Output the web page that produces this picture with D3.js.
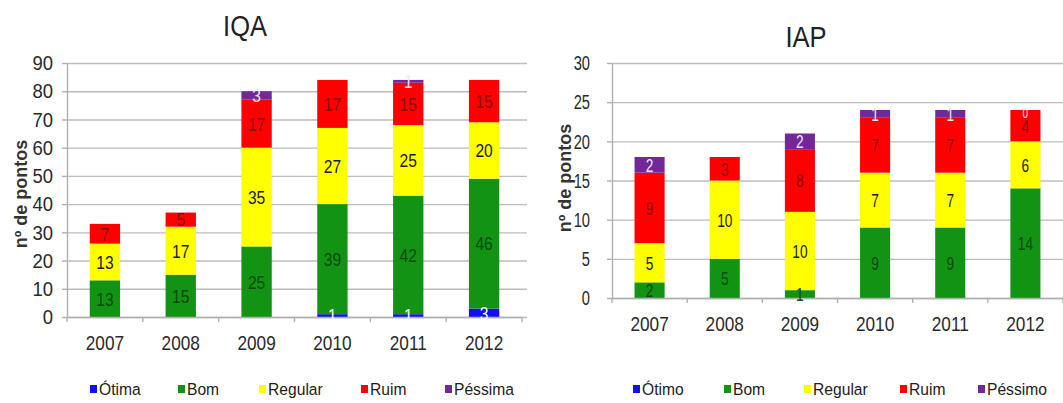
<!DOCTYPE html>
<html>
<head>
<meta charset="utf-8">
<script src="https://cdn.jsdelivr.net/npm/d3@7"></script>
<style>
  body { margin: 0; background: #fff; }
  svg { display: block; font-family: "Liberation Sans", Arial, sans-serif; }
</style>
</head>
<body>
<div class="chart"></div>
<script>
// categories
const years = ["2007", "2008", "2009", "2010", "2011", "2012"];

// IQA (null = no label shown)
const iqaOtima   = [null, null, null, 1, 1, 3];
const iqaBom     = [13, 15, 25, 39, 42, 46];
const iqaRegular = [13, 17, 35, 27, 25, 20];
const iqaRuim    = [7, 5, 17, 17, 15, 15];
const iqaPessima = [null, null, 3, null, 1, null];
const iqaTicks   = [0, 10, 20, 30, 40, 50, 60, 70, 80, 90];
const iqaNames   = ["Ótima", "Bom", "Regular", "Ruim", "Péssima"];

// IAP
const iapOtimo   = [null, null, null, null, null, null];
const iapBom     = [2, 5, 1, 9, 9, 14];
const iapRegular = [5, 10, 10, 7, 7, 6];
const iapRuim    = [9, 3, 8, 7, 7, 4];
const iapPessimo = [2, null, 2, 1, 1, 0];
const iapTicks   = [0, 5, 10, 15, 20, 25, 30];
const iapNames   = ["Ótimo", "Bom", "Regular", "Ruim", "Péssimo"];

const colors = ["#1010f0", "#139313", "#ffff00", "#ff0000", "#73289a"];
const labelColors = ["#ffffff", "#0b4a0b", "#1a1a1a", "#8a0a0a", "#f0e6f6"];

const svg = d3.select(".chart")
    .append("svg")
    .attr("width", 1063)
    .attr("height", 403);

function drawChart(opt) {
    const g = svg.append("g");
    const series = opt.series;
    const rows = years.map((yr, i) => {
        const r = { year: yr };
        series.forEach((s, k) => r[k] = s[i] == null ? 0 : s[i]);
        return r;
    });
    const stacked = d3.stack().keys(series.map((s, k) => k))(rows);

    const x = d3.scaleBand()
        .domain(years)
        .range([opt.left, opt.right])
        .paddingInner(0.6)
        .paddingOuter(0.3);
    const y = d3.scaleLinear()
        .domain([0, d3.max(opt.ticks)])
        .range([opt.bottom, opt.top]);

    // gridlines
    g.append("g")
        .attr("transform", `translate(${opt.left},0)`)
        .call(d3.axisLeft(y).tickValues(opt.ticks).tickSize(-(opt.gridEnd - opt.left)).tickFormat(""))
        .call(a => a.select(".domain").remove())
        .call(a => a.selectAll("line").attr("stroke", "#bcbcbc").attr("stroke-width", 1.4));

    // y axis
    g.append("g")
        .attr("transform", `translate(${opt.left},0)`)
        .call(d3.axisLeft(y).tickValues(opt.ticks).tickSize(5).tickSizeOuter(0).tickPadding(opt.yPad))
        .call(a => a.select(".domain").attr("stroke", "#b0b0b0").attr("stroke-width", 1.4))
        .call(a => a.selectAll("line").attr("stroke", "#b0b0b0").attr("stroke-width", 1.4))
        .call(a => a.selectAll("text")
            .attr("font-size", 21)
            .attr("fill", "#2a2a2a")
            .attr("font-family", "Liberation Sans, Arial, sans-serif")
            .attr("transform", `scale(${opt.yScaleX},1)`)
            .attr("x", -(5 + opt.yPad) / opt.yScaleX));

    // bars
    const layer = g.append("g").selectAll("g")
        .data(stacked)
        .join("g")
        .attr("fill", (d, k) => colors[k]);
    layer.selectAll("rect")
        .data(d => d)
        .join("rect")
        .attr("x", d => x(d.data.year))
        .attr("width", x.bandwidth())
        .attr("y", d => y(d[1]))
        .attr("height", d => y(d[0]) - y(d[1]));

    // x axis
    g.append("g")
        .attr("transform", `translate(0,${opt.bottom})`)
        .call(d3.axisBottom(x).tickSize(0).tickSizeOuter(0).tickPadding(18))
        .call(a => a.select(".domain").attr("stroke", "#b0b0b0").attr("stroke-width", 1.4))
        .call(a => a.selectAll("text")
            .attr("font-size", 21)
            .attr("fill", "#2a2a2a")
            .attr("font-family", "Liberation Sans, Arial, sans-serif")
            .attr("transform", `scale(${opt.xScaleX},1)`));
    g.append("g").selectAll("line")
        .data(years.concat(["end"]))
        .join("line")
        .attr("x1", (d, i) => opt.left + i * x.step())
        .attr("x2", (d, i) => opt.left + i * x.step())
        .attr("y1", opt.bottom)
        .attr("y2", opt.bottom + 5)
        .attr("stroke", "#b0b0b0")
        .attr("stroke-width", 1.4);

    // value labels
    stacked.forEach((s, k) => {
        g.append("g").selectAll("text")
            .data(s.filter((d, i) => series[k][i] != null))
            .join("text")
            .attr("transform", d => {
                const v = d[1] - d[0];
                const cy = (y(d[0]) + y(d[1])) / 2 + (v === 0 ? 3 : 0);
                return `translate(${x(d.data.year) + x.bandwidth() / 2},${cy}) scale(${opt.labelScaleX},1)`;
            })
            .attr("text-anchor", "middle")
            .attr("dy", "0.36em")
            .attr("font-size", d => (d[1] - d[0]) === 0 ? 14 : 19)
            .attr("fill", labelColors[k])
            .text(d => d[1] - d[0]);
    });

    // title
    g.append("text")
        .attr("transform", `translate(${opt.titleX},${opt.titleY}) scale(0.85,1)`)
        .attr("text-anchor", "middle")
        .attr("font-size", 30)
        .attr("fill", "#222")
        .text(opt.title);

    // y title
    g.append("text")
        .attr("transform", `translate(${opt.yTitleX},${opt.yTitleY}) rotate(-90)`)
        .attr("text-anchor", "middle")
        .attr("dy", "0.35em")
        .attr("font-size", 18)
        .attr("font-weight", "bold")
        .attr("fill", "#333")
        .text("nº de pontos");

    // legend
    const leg = g.append("g").selectAll("g")
        .data(opt.names)
        .join("g")
        .attr("transform", (d, i) => `translate(${opt.legendX[i]},${opt.legendY})`);
    leg.append("rect")
        .attr("x", 0).attr("y", -4)
        .attr("width", 7).attr("height", 8)
        .attr("fill", (d, i) => colors[i]);
    leg.append("text")
        .attr("transform", "translate(9,6) scale(0.92,1)")
        .attr("font-size", 17)
        .attr("fill", "#222")
        .text(d => d);
}

drawChart({
    title: "IQA", titleX: 245, titleY: 36,
    series: [iqaOtima, iqaBom, iqaRegular, iqaRuim, iqaPessima],
    names: iqaNames, ticks: iqaTicks,
    left: 67, right: 522, gridEnd: 527, top: 63, bottom: 317,
    yPad: 9, yScaleX: 0.88, xScaleX: 0.82, labelScaleX: 0.82,
    yTitleX: 21, yTitleY: 194,
    legendX: [90, 178, 259, 361, 445], legendY: 389
});

drawChart({
    title: "IAP", titleX: 806, titleY: 47,
    series: [iapOtimo, iapBom, iapRegular, iapRuim, iapPessimo],
    names: iapNames, ticks: iapTicks,
    left: 612, right: 1063, gridEnd: 1063, top: 63, bottom: 298,
    yPad: 17, yScaleX: 0.7, xScaleX: 0.82, labelScaleX: 0.72,
    yTitleX: 565, yTitleY: 178,
    legendX: [633, 724, 804, 900, 978], legendY: 389
});
</script>
</body>
</html>
